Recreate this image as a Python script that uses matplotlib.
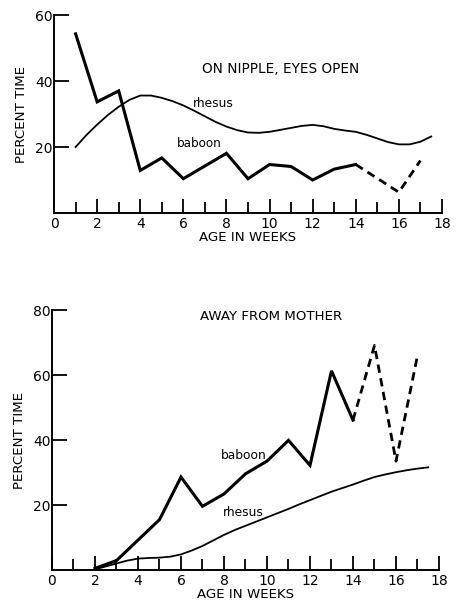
import matplotlib
matplotlib.use("Agg")
import matplotlib.pyplot as plt

plt.rcParams['font.family'] = ['DejaVu Sans']

# --- top panel: on nipple, eyes open ---
nip_rhesus_weeks = [1, 1.5, 2, 2.5, 3, 3.5, 4, 4.5, 5, 5.5, 6, 6.5, 7, 7.5, 8, 8.5,
                    9, 9.5, 10, 10.5, 11, 11.5, 12, 12.5, 13, 13.5, 14, 14.5, 15,
                    15.5, 16, 16.5, 17, 17.5]
nip_rhesus_pct = [20, 23.6, 26.8, 29.7, 32.2, 34.3, 35.6, 35.6, 34.9, 33.9, 32.6, 31.0,
                  29.3, 27.6, 26.2, 25.1, 24.4, 24.3, 24.6, 25.2, 25.8, 26.4, 26.7, 26.3,
                  25.5, 25.0, 24.6, 23.7, 22.6, 21.5, 20.8, 20.8, 21.6, 23.2]
nip_baboon_weeks = [1, 2, 3, 4, 5, 6, 8, 9, 10, 11, 12, 13, 14]
nip_baboon_pct = [54.3, 33.7, 37.0, 12.9, 16.7, 10.4, 18.1, 10.4, 14.7, 14.1, 10.0, 13.3, 14.7]
nip_baboon_dash_weeks = [14, 16, 17]
nip_baboon_dash_pct = [14.7, 6.3, 15.9]

# --- bottom panel: away from mother ---
away_rhesus_weeks = [2, 2.5, 3, 3.5, 4, 4.5, 5, 5.5, 6, 6.5, 7, 7.5, 8, 8.5, 9, 9.5,
                     10, 10.5, 11, 11.5, 12, 12.5, 13, 13.5, 14, 14.5, 15, 15.5, 16,
                     16.5, 17, 17.5]
away_rhesus_pct = [0.2, 1.1, 2.0, 2.9, 3.5, 3.7, 3.8, 4.1, 4.8, 6.0, 7.4, 9.1, 10.8,
                   12.3, 13.6, 14.9, 16.2, 17.5, 18.8, 20.2, 21.5, 22.8, 24.1, 25.2,
                   26.3, 27.5, 28.6, 29.4, 30.1, 30.7, 31.2, 31.6]
away_baboon_weeks = [2, 3, 4, 5, 6, 7, 8, 9, 10, 11, 12, 13, 14]
away_baboon_pct = [0.5, 2.9, 9.2, 15.5, 28.6, 19.6, 23.4, 29.6, 33.5, 39.9, 32.2, 61.3, 46.1]
away_baboon_dash_weeks = [14, 15, 16, 17]
away_baboon_dash_pct = [46.1, 69.1, 33.5, 66.0]

fig = plt.figure(figsize=(4.58, 6.06), dpi=100)
ax1 = fig.add_axes([0.118, 0.6485, 0.847, 0.3267])
ax2 = fig.add_axes([0.1135, 0.0594, 0.845, 0.429])


def style(ax, ymax, yticks):
    ax.set_xlim(0, 18)
    ax.set_ylim(0, ymax)
    for s in ['top', 'right']:
        ax.spines[s].set_visible(False)
    for s in ['left', 'bottom']:
        ax.spines[s].set_linewidth(1.4)
    ax.set_xticks(range(0, 19, 2))
    ax.set_xticks(range(1, 18, 2), minor=True)
    ax.set_yticks(yticks)
    ax.tick_params(axis='x', which='major', direction='in', length=10, width=1.3,
                   labelsize=10, pad=3)
    ax.tick_params(axis='x', which='minor', direction='in', length=8, width=1.3)
    ax.tick_params(axis='y', direction='in', length=11, width=1.3, labelsize=10, pad=1)
    ax.set_xlabel('AGE IN WEEKS', fontsize=9.6, labelpad=0)
    ax.set_ylabel('PERCENT TIME', fontsize=9.6, labelpad=5)


style(ax1, 60, [20, 40, 60])
ax1.plot(nip_rhesus_weeks, nip_rhesus_pct, color='black', lw=1.3)
ax1.plot(nip_baboon_weeks, nip_baboon_pct, color='black', lw=2.2, solid_joinstyle='miter')
ax1.plot(nip_baboon_dash_weeks, nip_baboon_dash_pct, color='black', lw=2.0,
         linestyle=(0, (3, 2)))
ax1.text(10.5, 43.5, 'ON NIPPLE, EYES OPEN', fontsize=9.8, ha='center', va='center')
ax1.text(6.45, 33.3, 'rhesus', fontsize=8.8, ha='left', va='center')
ax1.text(5.7, 21.2, 'baboon', fontsize=8.6, ha='left', va='center')

style(ax2, 80, [20, 40, 60, 80])
ax2.plot(away_rhesus_weeks, away_rhesus_pct, color='black', lw=1.3)
ax2.plot(away_baboon_weeks, away_baboon_pct, color='black', lw=2.2, solid_joinstyle='miter')
ax2.plot(away_baboon_dash_weeks, away_baboon_dash_pct, color='black', lw=2.0,
         linestyle=(0, (3, 2)))
ax2.text(10.2, 78, 'AWAY FROM MOTHER', fontsize=9.6, ha='center', va='center')
ax2.text(7.86, 35.3, 'baboon', fontsize=8.8, ha='left', va='center')
ax2.text(7.95, 17.6, 'rhesus', fontsize=8.8, ha='left', va='center')

fig.savefig('out.png', dpi=100)
